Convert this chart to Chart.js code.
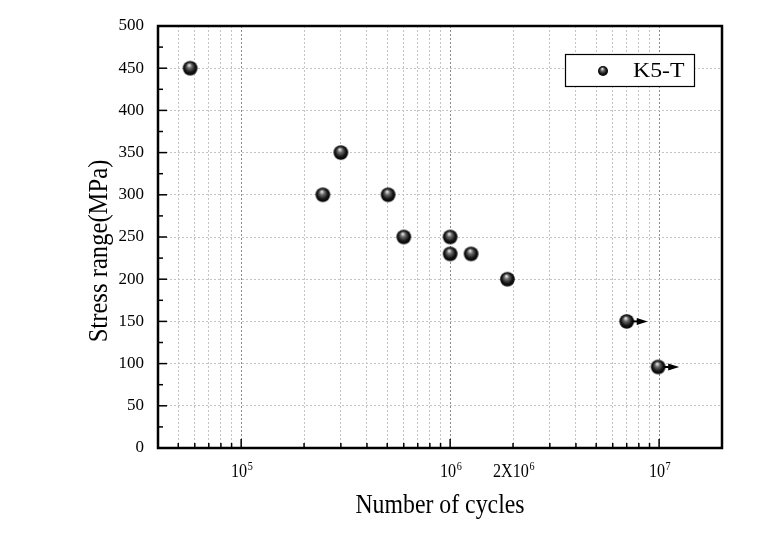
<!DOCTYPE html>
<html>
<head>
<meta charset="utf-8">
<script src="https://cdn.jsdelivr.net/npm/chart.js@4.4.1/dist/chart.umd.min.js"></script>
<style>
    html, body { margin: 0; padding: 0; background: #fff; }
    canvas { display: block; }
</style>
</head>
<body>
<canvas id="chart" width="765" height="538"></canvas>
<script>
const seriesLabel = 'K5-T';
const cycles = [5.7e4, 2.46e5, 3.0e5, 5.05e5, 6.0e5, 1.0e6, 1.0e6, 1.26e6, 1.88e6, 7.0e6, 9.9e6];
const stress = [450, 300, 350, 300, 250, 250, 230, 230, 200, 150, 96];
const runout = [false, false, false, false, false, false, false, false, false, true, true];

const xLabelValues = [1e5, 1e6, 2e6, 1e7];
const xLabelBases = ['10', '10', '2X10', '10'];
const xLabelExps = ['5', '6', '6', '7'];

const xMin = 4e4;
const xMax = 2e7;
const yMin = 0;
const yMax = 500;
const yStep = 50;

const serif = "'Liberation Serif', 'Times New Roman', serif";

// every 1..9 x 10^n between min and max, for grid lines and tick marks
const logSteps = (min, max) => {
    const out = [];
    for (let e = Math.floor(Math.log10(min)); e <= Math.ceil(Math.log10(max)); e++) {
        for (let m = 1; m < 10; m++) {
            const v = m * Math.pow(10, e);
            if (v >= min * 0.999 && v <= max * 1.001) out.push(v);
        }
    }
    return out;
};
const isDecade = (v) => Math.abs(Math.log10(v) - Math.round(Math.log10(v))) < 1e-6;

const makeBall = (r) => {
    const size = Math.ceil(r * 2 + 2);
    const c = document.createElement('canvas');
    c.width = size;
    c.height = size;
    const g = c.getContext('2d');
    const cx = size / 2;
    const cy = size / 2;
    const grad = g.createRadialGradient(cx - r * 0.15, cy - r * 0.45, r * 0.05, cx, cy, r);
    grad.addColorStop(0, '#ececec');
    grad.addColorStop(0.3, '#6a6a6a');
    grad.addColorStop(0.7, '#151515');
    grad.addColorStop(1, '#000');
    g.fillStyle = grad;
    g.beginPath();
    g.arc(cx, cy, r, 0, Math.PI * 2);
    g.fill();
    return c;
};

// the reference text is a narrow Times; squeeze it horizontally
const squeezedText = (ctx, text, x, y, size, sx, align = 'left') => {
    ctx.save();
    ctx.font = `${size}px ${serif}`;
    ctx.textAlign = align;
    ctx.textBaseline = 'alphabetic';
    ctx.translate(x, y);
    ctx.scale(sx, 1);
    ctx.fillText(text, 0, 0);
    ctx.restore();
};
const squeezedWidth = (ctx, text, size, sx) => {
    ctx.font = `${size}px ${serif}`;
    return ctx.measureText(text).width * sx;
};

const ball = makeBall(7.3);
const legendBall = makeBall(5);
const xGrid = logSteps(xMin, xMax);

const decorations = {
    id: 'decorations',
    afterDatasetsDraw(chart) {
        const { ctx } = chart;
        const meta = chart.getDatasetMeta(0);
        ctx.save();
        ctx.fillStyle = '#000';
        ctx.strokeStyle = '#000';
        ctx.lineWidth = 2;
        meta.data.forEach((pt, i) => {
            if (!runout[i]) return;
            ctx.beginPath();
            ctx.moveTo(pt.x + 6, pt.y);
            ctx.lineTo(pt.x + 11, pt.y);
            ctx.stroke();
            ctx.beginPath();
            ctx.moveTo(pt.x + 10, pt.y - 3.5);
            ctx.lineTo(pt.x + 21, pt.y);
            ctx.lineTo(pt.x + 10, pt.y + 3.5);
            ctx.closePath();
            ctx.fill();
        });
        ctx.restore();
    },
    afterDraw(chart) {
        const { ctx, chartArea: a, scales: { x, y } } = chart;
        ctx.save();
        ctx.strokeStyle = '#000';

        // legend box
        ctx.fillStyle = '#fff';
        ctx.fillRect(565, 54, 129, 32);
        ctx.lineWidth = 1.2;
        ctx.strokeRect(565.5, 54.5, 129, 32);
        ctx.drawImage(legendBall, 603 - legendBall.width / 2, 71 - legendBall.height / 2);
        ctx.fillStyle = '#000';
        squeezedText(ctx, chart.data.datasets[0].label, 633, 77, 22, 1.08);

        // inward tick marks
        ctx.lineWidth = 1.5;
        xGrid.forEach((v) => {
            const px = x.getPixelForValue(v);
            if (px <= a.left + 1 || px >= a.right - 1) return;
            ctx.beginPath();
            ctx.moveTo(px, a.bottom);
            ctx.lineTo(px, a.bottom - (isDecade(v) ? 9 : 5));
            ctx.stroke();
        });
        for (let v = yMin; v <= yMax; v += yStep / 2) {
            const py = y.getPixelForValue(v);
            ctx.beginPath();
            ctx.moveTo(a.left, py);
            ctx.lineTo(a.left + (v % yStep === 0 ? 9 : 5), py);
            ctx.stroke();
        }

        // frame
        ctx.lineWidth = 2.5;
        ctx.strokeRect(a.left, a.top, a.right - a.left, a.bottom - a.top);

        // x tick labels with exponents
        xLabelValues.forEach((v, i) => {
            const px = x.getPixelForValue(v);
            const wb = squeezedWidth(ctx, xLabelBases[i], 19, 0.85);
            const we = squeezedWidth(ctx, xLabelExps[i], 12, 0.85);
            const start = px - (wb + we + 1) / 2 + 1;
            squeezedText(ctx, xLabelBases[i], start, 477, 19, 0.85);
            squeezedText(ctx, xLabelExps[i], start + wb + 0.5, 470, 12, 0.85);
        });

        // axis titles
        squeezedText(ctx, 'Number of cycles', (a.left + a.right) / 2, 513, 28, 0.85, 'center');
        ctx.translate(107, 251);
        ctx.rotate(-Math.PI / 2);
        squeezedText(ctx, 'Stress range(MPa)', 0, 0, 28, 0.88, 'center');
        ctx.restore();
    },
};

new Chart(document.getElementById('chart'), {
    type: 'scatter',
    data: {
        datasets: [
            {
                label: seriesLabel,
                data: cycles.map((c, i) => ({ x: c, y: stress[i] })),
                pointStyle: ball,
                pointRadius: 7,
                showLine: false,
            },
        ],
    },
    options: {
        responsive: false,
        devicePixelRatio: 1,
        animation: false,
        events: [],
        layout: {
            padding: { top: 26, right: 43, left: 0, bottom: 0 },
        },
        plugins: {
            legend: { display: false },
            tooltip: { enabled: false },
        },
        scales: {
            x: {
                type: 'logarithmic',
                min: xMin,
                max: xMax,
                afterBuildTicks: (scale) => {
                    scale.ticks = xGrid.map((v) => ({ value: v }));
                },
                afterFit: (scale) => {
                    scale.height = 90;
                },
                ticks: { display: false },
                grid: {
                    drawTicks: false,
                    lineWidth: 1,
                    color: (c) => (c.tick && isDecade(c.tick.value) ? '#8a8a8a' : '#c4c4c4'),
                },
                border: { display: false, dash: [2, 2] },
            },
            y: {
                min: yMin,
                max: yMax,
                afterFit: (scale) => {
                    scale.width = 158;
                },
                ticks: {
                    stepSize: yStep,
                    padding: 14,
                    color: '#000',
                    font: { family: serif, size: 17 },
                },
                grid: {
                    drawTicks: false,
                    lineWidth: 1,
                    color: '#c4c4c4',
                },
                border: { display: false, dash: [2, 2] },
            },
        },
    },
    plugins: [decorations],
});
</script>
</body>
</html>
